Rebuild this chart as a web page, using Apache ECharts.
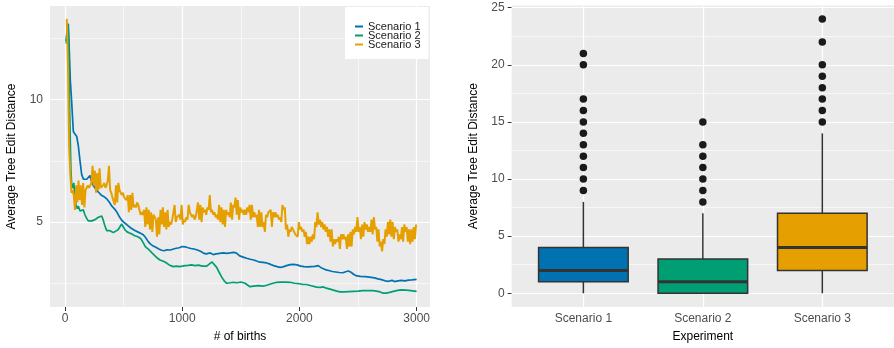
<!DOCTYPE html>
<html>
<head>
<meta charset="utf-8">
<script src="https://cdn.jsdelivr.net/npm/echarts@6/dist/echarts.min.js"></script>
<style>
  html, body { margin: 0; padding: 0; background: #fff; }
  #chart { width: 894px; height: 348px; }
</style>
</head>
<body>
<div id="chart"></div>
<script>
// ---- left panel: average tree edit distance over births ----
const scenarioNames = ['Scenario 1', 'Scenario 2', 'Scenario 3']
const colors = ['#0072B2', '#009E73', '#E69F00']

const births1 = [10, 20, 28, 35, 45, 57, 65, 71, 85, 100, 114, 128, 142, 157, 171, 185, 200, 213, 225, 240,
  255, 270, 290, 310, 330, 356, 380, 400, 420, 441, 460, 480, 500, 526, 550, 575, 600, 620, 640, 668,
  690, 710, 730, 753, 775, 800, 825, 845, 870, 900, 925, 950, 975, 1000, 1025, 1050, 1075, 1100, 1130, 1160,
  1185, 1205, 1222, 1240, 1265, 1290, 1320, 1350, 1380, 1410, 1436, 1460, 1490, 1520, 1550, 1580, 1610, 1640, 1665, 1690,
  1720, 1750, 1780, 1810, 1835, 1860, 1890, 1920, 1950, 1980, 2010, 2040, 2070, 2100, 2130, 2160, 2190, 2220, 2250, 2280,
  2310, 2340, 2370, 2395, 2418, 2440, 2465, 2490, 2520, 2560, 2600, 2640, 2670, 2700, 2730, 2760, 2790, 2810, 2840, 2870,
  2900, 2930, 2960, 3000]
const values1 = [12.4, 13.0, 13.1, 12.2, 10.8, 9.9, 9.2, 8.7, 8.6, 8.5, 8.1, 7.5, 6.95, 6.75, 6.7, 6.75, 6.8, 6.9, 6.7, 6.5,
  6.4, 6.3, 6.2, 6.1, 6.05, 5.95, 5.8, 5.65, 5.55, 5.42, 5.25, 5.1, 5.0, 4.9, 4.8, 4.72, 4.65, 4.6, 4.55, 4.48,
  4.35, 4.2, 4.1, 4.02, 3.97, 3.9, 3.85, 3.83, 3.87, 3.86, 3.9, 3.93, 3.95, 4.0, 3.99, 3.95, 3.92, 3.9, 3.86, 3.8,
  3.72, 3.7, 3.78, 3.74, 3.67, 3.7, 3.72, 3.74, 3.72, 3.74, 3.76, 3.74, 3.62, 3.57, 3.52, 3.48, 3.45, 3.4, 3.36, 3.35,
  3.33, 3.28, 3.22, 3.18, 3.15, 3.17, 3.22, 3.26, 3.27, 3.25, 3.2, 3.18, 3.17, 3.18, 3.19, 3.22, 3.12, 3.06, 3.02, 2.98,
  2.96, 2.94, 2.93, 2.97, 3.0, 2.95, 2.86, 2.8, 2.78, 2.77, 2.75, 2.72, 2.68, 2.65, 2.6, 2.58, 2.62, 2.57, 2.6, 2.62,
  2.6, 2.63, 2.64, 2.66]

const births2 = [10, 18, 25, 30, 40, 50, 57, 65, 75, 85, 94, 105, 114, 128, 142, 156, 170, 185, 199, 213,
  228, 242, 256, 270, 285, 300, 313, 325, 340, 356, 370, 384, 400, 412, 430, 455, 470, 484, 498, 512,
  530, 550, 570, 590, 610, 630, 650, 668, 685, 700, 720, 740, 768, 790, 810, 839, 860, 880, 900, 925,
  950, 975, 1000, 1024, 1050, 1080, 1109, 1140, 1170, 1209, 1235, 1255, 1270, 1294, 1315, 1337, 1358, 1380, 1410, 1436,
  1470, 1500, 1536, 1560, 1578, 1610, 1650, 1690, 1721, 1760, 1806, 1840, 1880, 1920, 1960, 2000, 2033, 2060, 2100, 2147,
  2180, 2203, 2230, 2261, 2290, 2320, 2346, 2380, 2420, 2460, 2500, 2540, 2590, 2630, 2680, 2710, 2740, 2770, 2810, 2850,
  2873, 2910, 2950, 3000]
const values2 = [12.3, 12.8, 13.1, 12.5, 9.5, 7.2, 6.5, 6.4, 6.6, 6.0, 5.7, 5.55, 5.65, 5.45, 5.4, 5.5, 5.3, 5.15, 5.05, 5.0,
  5.05, 5.0, 5.1, 5.1, 5.2, 5.25, 5.25, 5.1, 4.85, 4.65, 4.62, 4.65, 4.58, 4.57, 4.62, 4.7, 4.82, 4.92, 4.8, 4.68,
  4.6, 4.55, 4.52, 4.45, 4.42, 4.38, 4.3, 4.15, 4.0, 3.95, 3.85, 3.75, 3.62, 3.52, 3.45, 3.4, 3.35, 3.28, 3.22, 3.18,
  3.2, 3.18, 3.2, 3.22, 3.23, 3.25, 3.22, 3.24, 3.2, 3.2, 3.3, 3.37, 3.3, 3.15, 2.95, 2.75, 2.6, 2.5, 2.52, 2.54,
  2.52, 2.55, 2.5, 2.42, 2.36, 2.38, 2.4, 2.38, 2.42, 2.48, 2.54, 2.55, 2.55, 2.54, 2.5, 2.48, 2.45, 2.45, 2.4, 2.34,
  2.33, 2.35, 2.3, 2.26, 2.22, 2.18, 2.15, 2.15, 2.16, 2.17, 2.18, 2.2, 2.2, 2.2, 2.16, 2.1, 2.1, 2.13, 2.18, 2.22,
  2.23, 2.22, 2.2, 2.17]

// scenario 3 sampled every 10 births from 15 to 2995
const births3Start = 15
const births3Step = 10
const values3 = [
  13.3, 11.5, 8.1, 7.0, 6.2, 6.3, 6.1, 5.5, 6.5, 5.8,
  6.7, 5.9, 6.5, 5.7, 6.6, 5.6, 6.3, 6.3, 6.5, 6.4,
  6.4, 6.6, 7.3, 6.5, 7.1, 6.2, 7.0, 6.3, 7.2, 6.4,
  6.4, 6.5, 6.6, 6.4, 6.5, 6.7, 7.3, 6.3, 6.2, 6.0,
  6.0, 5.7, 6.5, 5.8, 6.6, 6.3, 6.3, 6.1, 6.2, 6.0,
  6.0, 5.9, 6.1, 5.4, 6.1, 5.5, 6.2, 5.6, 5.7, 5.6,
  5.8, 5.7, 5.5, 5.3, 5.4, 5.3, 5.5, 4.8, 5.6, 4.9,
  5.5, 4.7, 5.4, 4.6, 5.3, 5.2, 5.1, 4.4, 5.2, 4.5,
  5.5, 4.9, 5.6, 4.8, 5.4, 4.7, 5.5, 4.8, 5.0, 4.9,
  5.1, 5.1, 5.7, 5.0, 5.2, 5.2, 5.3, 5.1, 5.7, 4.9,
  5.1, 5.0, 5.2, 5.1, 5.7, 5.4, 5.4, 5.2, 5.3, 5.1,
  5.2, 5.2, 5.8, 5.1, 5.7, 5.0, 5.6, 5.4, 5.5, 5.3,
  5.6, 5.5, 6.1, 5.4, 5.5, 5.3, 5.4, 5.2, 5.3, 5.1,
  5.7, 5.0, 5.6, 4.9, 5.5, 4.8, 5.5, 5.3, 5.4, 5.2,
  5.8, 5.1, 5.7, 5.6, 6.0, 5.3, 5.9, 5.1, 5.6, 5.4,
  5.5, 5.3, 5.5, 5.3, 5.6, 5.4, 5.7, 5.1, 5.7, 5.2,
  5.4, 5.2, 5.3, 4.8, 5.5, 4.8, 5.4, 4.8, 5.0, 4.6,
  5.3, 5.2, 5.4, 5.4, 5.5, 4.8, 5.4, 5.2, 5.4, 5.2,
  5.3, 5.1, 5.2, 5.0, 5.7, 5.5, 5.6, 4.7, 4.9, 4.4,
  4.7, 4.6, 4.8, 4.7, 4.7, 4.5, 4.5, 4.4, 5.0, 4.7,
  4.8, 4.6, 4.7, 4.4, 4.6, 4.1, 4.4, 4.1, 4.4, 4.2,
  4.5, 4.3, 5.0, 4.8, 5.4, 4.9, 5.1, 4.8, 5.0, 4.7,
  4.9, 4.6, 4.8, 4.4, 4.7, 4.2, 4.7, 4.0, 4.3, 4.1,
  4.3, 4.2, 4.4, 3.9, 4.5, 4.3, 4.5, 4.3, 4.4, 3.9,
  4.5, 4.0, 4.6, 4.0, 4.7, 4.5, 4.8, 4.6, 5.2, 4.6,
  4.8, 4.3, 4.9, 4.4, 5.0, 4.7, 4.9, 4.6, 4.8, 4.6,
  5.1, 4.5, 5.2, 4.7, 4.8, 4.2, 4.7, 4.0, 4.2, 3.8,
  4.3, 4.1, 4.7, 4.4, 5.0, 4.5, 5.1, 4.4, 5.0, 4.3,
  4.8, 4.6, 4.7, 4.2, 4.5, 4.3, 4.8, 4.2, 4.9, 4.6,
  4.8, 4.2, 4.7, 4.1, 4.7, 4.2, 4.8, 4.3, 4.9
]

const lineXTicks = [0, 1000, 2000, 3000]
const lineXMinor = [500, 1500, 2500]
const lineYTicks = [5, 10]
const lineYMinor = [2.5, 7.5, 12.5]

// ---- right panel: box plot per scenario ----
const whiskerLow = [0, 0, 0]
const quart1 = [1, 0, 2]
const medians = [2, 1, 4]
const quart3 = [4, 3, 7]
const whiskerHigh = [8, 7, 14]
const outliers1 = [9, 10, 11, 12, 13, 14, 15, 16, 17, 20, 21]
const outliers2 = [8, 9, 10, 11, 12, 13, 15]
const outliers3 = [15, 16, 17, 18, 19, 20, 22, 24]
const boxYTicks = [0, 5, 10, 15, 20, 25]
const boxYMinor = [2.5, 7.5, 12.5, 17.5, 22.5]

const FONT = 'Liberation Sans, Arial, Helvetica, sans-serif'
const BG = '#EBEBEB'

const zip = (xs, ys) => xs.map((x, i) => [x, ys[i]])
const data3 = values3.map((v, i) => [births3Start + i * births3Step, v])
const boxData = scenarioNames.map((n, i) => [i + 1, whiskerLow[i], quart1[i], medians[i], quart3[i], whiskerHigh[i]])
const outlierData = []
;[outliers1, outliers2, outliers3].forEach((arr, i) => arr.forEach(v => outlierData.push([i + 1, v])))

function gridLines(axisKey, major, minor) {
  return major.map(v => ({ [axisKey]: v, lineStyle: { color: '#fff', width: 1.2, type: 'solid' } }))
    .concat(minor.map(v => ({ [axisKey]: v, lineStyle: { color: '#fff', width: 0.6, type: 'solid' } })))
}

const tickLabel = { color: '#4D4D4D', fontSize: 12, fontFamily: FONT }
const axisName = { color: '#000', fontSize: 12, fontFamily: FONT }
const tick = { show: true, length: 4, lineStyle: { color: '#333', width: 1 } }

const chart = echarts.init(document.getElementById('chart'))

const option = {
  animation: false,
  textStyle: { fontFamily: FONT },
  grid: [
    { left: 50, top: 6, width: 380, height: 304, show: true, backgroundColor: BG, borderWidth: 0 },
    { left: 511.7, top: 5.4, width: 385, height: 301.6, show: true, backgroundColor: BG, borderWidth: 0 }
  ],
  legend: {
    data: scenarioNames,
    orient: 'vertical',
    left: 345,
    top: 7,
    padding: [14, 8, 9, 10],
    backgroundColor: '#fff',
    itemGap: -2,
    itemWidth: 8,
    itemHeight: 2,
    icon: 'rect',
    textStyle: { fontSize: 11, lineHeight: 9, color: '#1a1a1a', fontFamily: FONT }
  },
  xAxis: [
    {
      gridIndex: 0, type: 'value', min: -128, max: 3114,
      name: '# of births', nameLocation: 'middle', nameGap: 24, nameTextStyle: axisName,
      axisLine: { show: false },
      axisTick: Object.assign({ customValues: lineXTicks }, tick),
      axisLabel: Object.assign({ customValues: lineXTicks, margin: 6, formatter: v => String(v) }, tickLabel),
      splitLine: { show: false }
    },
    {
      gridIndex: 1, type: 'value', min: 0.4, max: 3.6,
      name: 'Experiment', nameLocation: 'middle', nameGap: 24, nameTextStyle: axisName,
      axisLine: { show: false },
      axisTick: Object.assign({ customValues: [1, 2, 3] }, tick),
      axisLabel: Object.assign({ customValues: [1, 2, 3], margin: 6, formatter: v => scenarioNames[Math.round(v) - 1] }, tickLabel),
      splitLine: { show: false }
    }
  ],
  yAxis: [
    {
      gridIndex: 0, type: 'value', min: 1.53, max: 13.83,
      name: 'Average Tree Edit Distance', nameLocation: 'middle', nameGap: 32, nameTextStyle: axisName,
      axisLine: { show: false },
      axisTick: Object.assign({ customValues: lineYTicks }, tick),
      axisLabel: Object.assign({ customValues: lineYTicks, margin: 7 }, tickLabel),
      splitLine: { show: false }
    },
    {
      gridIndex: 1, type: 'value', min: -1.2, max: 25.2,
      name: 'Average Tree Edit Distance', nameLocation: 'middle', nameGap: 32, nameTextStyle: axisName,
      axisLine: { show: false },
      axisTick: Object.assign({ customValues: boxYTicks }, tick),
      axisLabel: Object.assign({ customValues: boxYTicks, margin: 7 }, tickLabel),
      splitLine: { show: false }
    }
  ],
  series: [
    {
      name: scenarioNames[0], type: 'line', xAxisIndex: 0, yAxisIndex: 0,
      data: zip(births1, values1), showSymbol: false, color: colors[0],
      lineStyle: { width: 1.7 }, z: 3,
      markLine: {
        silent: true, symbol: ['none', 'none'], label: { show: false }, z: 1,
        emphasis: { disabled: true },
        data: gridLines('xAxis', lineXTicks, lineXMinor).concat(gridLines('yAxis', lineYTicks, lineYMinor))
      }
    },
    {
      name: scenarioNames[1], type: 'line', xAxisIndex: 0, yAxisIndex: 0,
      data: zip(births2, values2), showSymbol: false, color: colors[1],
      lineStyle: { width: 1.7 }, z: 4
    },
    {
      name: scenarioNames[2], type: 'line', xAxisIndex: 0, yAxisIndex: 0,
      data: data3, showSymbol: false, color: colors[2],
      lineStyle: { width: 2 }, z: 5
    },
    {
      type: 'custom', xAxisIndex: 1, yAxisIndex: 1, z: 3,
      data: boxData,
      encode: { x: 0, y: [1, 2, 3, 4, 5] },
      renderItem(params, api) {
        const x = api.value(0)
        const lo = api.coord([x, api.value(1)])
        const q1 = api.coord([x, api.value(2)])
        const med = api.coord([x, api.value(3)])
        const q3 = api.coord([x, api.value(4)])
        const hi = api.coord([x, api.value(5)])
        const half = api.size([0.75, 0])[0] / 2
        const stroke = { stroke: '#333', lineWidth: 1.5 }
        return {
          type: 'group',
          children: [
            { type: 'line', shape: { x1: lo[0], y1: lo[1], x2: q1[0], y2: q1[1] }, style: stroke },
            { type: 'line', shape: { x1: q3[0], y1: q3[1], x2: hi[0], y2: hi[1] }, style: stroke },
            {
              type: 'rect',
              shape: { x: q3[0] - half, y: q3[1], width: half * 2, height: q1[1] - q3[1] },
              style: { fill: colors[params.dataIndex], stroke: '#333', lineWidth: 1.5 }
            },
            { type: 'line', shape: { x1: med[0] - half, y1: med[1], x2: med[0] + half, y2: med[1] }, style: { stroke: '#333', lineWidth: 3 } }
          ]
        }
      }
    },
    {
      type: 'scatter', xAxisIndex: 1, yAxisIndex: 1, z: 4,
      data: outlierData, symbolSize: 7.5, itemStyle: { color: '#1a1a1a', opacity: 1 },
      markLine: {
        silent: true, symbol: ['none', 'none'], label: { show: false }, z: 1,
        emphasis: { disabled: true },
        data: gridLines('xAxis', [1, 2, 3], []).concat(gridLines('yAxis', boxYTicks, boxYMinor))
      }
    }
  ]
}

chart.setOption(option)
</script>
</body>
</html>
